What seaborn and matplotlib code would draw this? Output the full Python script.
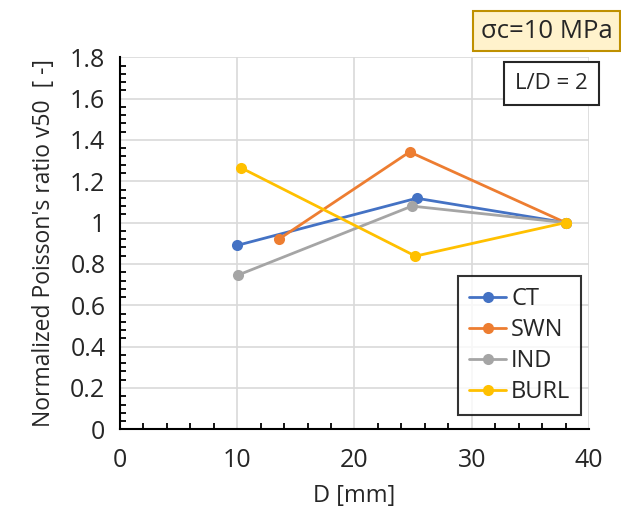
import matplotlib.pyplot as plt
import pandas as pd
import seaborn as sns
from matplotlib.ticker import MultipleLocator

# values
series = ["CT", "SWN", "IND", "BURL"]
colors = ["#4472C4", "#ED7D31", "#A5A5A5", "#FFC000"]
d_ct = [10.0, 25.3, 38.0]
v_ct = [0.89, 1.118, 1.0]
d_swn = [13.6, 24.7, 38.0]
v_swn = [0.922, 1.342, 1.0]
d_ind = [10.1, 24.9, 38.0]
v_ind = [0.747, 1.08, 1.0]
d_burl = [10.3, 25.2, 38.0]
v_burl = [1.266, 0.838, 1.0]

df = pd.concat([
    pd.DataFrame({"D": d_ct, "v": v_ct, "series": "CT"}),
    pd.DataFrame({"D": d_swn, "v": v_swn, "series": "SWN"}),
    pd.DataFrame({"D": d_ind, "v": v_ind, "series": "IND"}),
    pd.DataFrame({"D": d_burl, "v": v_burl, "series": "BURL"}),
], ignore_index=True)

sns.set_style("white")
plt.rcParams["font.family"] = ["Open Sans", "DejaVu Sans"]

fig = plt.figure(figsize=(6.21, 5.17), dpi=100)
ax = fig.add_axes([0.1932, 0.1696, 0.7553, 0.7196])

sns.lineplot(data=df, x="D", y="v", hue="series", hue_order=series,
             palette=colors, marker="o", markersize=8, markeredgewidth=0,
             linewidth=2, sort=False, estimator=None, ax=ax)

ax.set_xlim(0, 40)
ax.set_ylim(0, 1.8)
ax.xaxis.set_major_locator(MultipleLocator(10))
ax.xaxis.set_minor_locator(MultipleLocator(2))
ax.yaxis.set_major_locator(MultipleLocator(0.2))
ax.yaxis.set_minor_locator(MultipleLocator(0.04))
ax.set_yticks([0, 0.2, 0.4, 0.6, 0.8, 1.0, 1.2, 1.4, 1.6, 1.8])
ax.set_yticklabels(["0", "0.2", "0.4", "0.6", "0.8", "1", "1.2", "1.4", "1.6", "1.8"])

ax.grid(True, which="major", color="#D9D9D9", linewidth=1.2)
ax.set_axisbelow(True)
for s in ["top", "right"]:
    ax.spines[s].set_visible(False)
for s in ["left", "bottom"]:
    ax.spines[s].set_color("black")
    ax.spines[s].set_linewidth(1.5)

ax.tick_params(which="major", direction="inout", length=9, width=1.5,
               labelsize=18, color="black", labelcolor="#262626")
ax.tick_params(axis="y", which="major", pad=6)
ax.tick_params(axis="x", which="major", pad=9)
ax.tick_params(which="minor", direction="in", length=4, width=1.3, color="black",
               bottom=True, left=True)

ax.set_xlabel("D [mm]", fontsize=17, color="#262626", labelpad=8)
ax.set_ylabel("Normalized Poisson's ratio v50  [ -]", fontsize=16.5,
              color="#262626", labelpad=10)

leg = ax.legend(loc="lower right", bbox_to_anchor=(0.998, 0.02), fontsize=17,
                frameon=True, fancybox=False, edgecolor="black",
                handlelength=1.6, handletextpad=0.2, borderpad=0.45,
                borderaxespad=0.3, labelspacing=0.3)
leg.get_frame().set_linewidth(1.5)
for h in leg.legend_handles:
    h.set_linewidth(2)

fig.text(0.774, 0.94, "σc=10 MPa", fontsize=18.5, color="#262626", va="center",
         ha="left",
         bbox=dict(boxstyle="square,pad=0.3", facecolor="#FFF2CC",
                   edgecolor="#BF9000", linewidth=1.5))
fig.text(0.888, 0.838, "L/D = 2", fontsize=16, color="#262626", va="center",
         ha="center",
         bbox=dict(boxstyle="square,pad=0.5", facecolor="white",
                   edgecolor="#262626", linewidth=1.5))

fig.savefig("out.png", dpi=100)
